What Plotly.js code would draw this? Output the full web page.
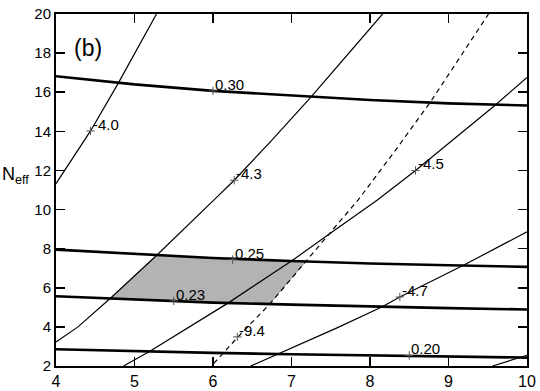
<!DOCTYPE html>
<html>
<head>
<meta charset="utf-8">
<script src="https://cdn.plot.ly/plotly-3.0.1.min.js"></script>
<style>
  html, body { margin: 0; padding: 0; background: #fff; }
  #chart { width: 540px; height: 391px; }
</style>
</head>
<body>
<div id="chart"></div>
<script>
// thick contours (labelled 0.30 / 0.25 / 0.23 / 0.20)
const thickX = [4, 5, 6, 7, 8, 9, 10];
const c030 = [16.82, 16.4, 16.07, 15.82, 15.6, 15.43, 15.32];
const c025 = [7.95, 7.72, 7.52, 7.37, 7.24, 7.15, 7.07];
const c023 = [5.57, 5.4, 5.24, 5.14, 5.04, 4.96, 4.89];
const c020 = [2.86, 2.76, 2.67, 2.6, 2.55, 2.49, 2.43];

// thin contours
const m40x = [4, 4.11, 4.44, 4.79, 5.28];
const m40y = [11.33, 12.0, 14.02, 16.44, 20];
const m43x = [4, 4.28, 4.69, 5.28, 6.01, 6.27, 6.73, 7.25, 8.16];
const m43y = [3.23, 4.0, 5.45, 7.65, 10.48, 11.5, 13.46, 15.76, 20];
const m45x = [4.86, 5.18, 6.18, 6.73, 7.0, 7.49, 8.09, 8.58, 9.59, 10];
const m45y = [2, 2.72, 5.19, 6.64, 7.37, 8.77, 10.48, 12.0, 15.32, 16.75];
const m47x = [6.48, 6.82, 7.2, 7.58, 8.15, 8.38, 9.19, 10];
const m47y = [2, 2.6, 3.27, 3.95, 5.02, 5.53, 7.15, 8.86];
const m49x = [9.56, 10];
const m49y = [2, 2.55];

// dashed contour (-9.4)
const dashX = [6.01, 6.31, 6.73, 7.18, 7.5, 7.85, 8.3, 8.77, 9.51];
const dashY = [2.13, 3.45, 5.2, 7.3, 8.85, 10.5, 12.9, 15.5, 20];

// shaded allowed region
const shadeX = [4.69, 5.28, 6.25, 7.18, 6.72, 6.2, 5.5, 4.69];
const shadeY = [5.45, 7.65, 7.44, 7.34, 5.18, 5.19, 5.33, 5.45];

// contour labels
const labelText = ['0.30', '-4.0', '-4.3', '-4.5', '0.25', '0.23', '-9.4', '-4.7', '0.20'];
const labelX = [6.0, 4.44, 6.27, 8.58, 6.25, 5.5, 6.31, 8.38, 8.5];
const labelY = [16.07, 14.02, 11.5, 12.0, 7.44, 5.33, 3.49, 5.53, 2.54];

const FONT = 'Liberation Sans, Arial, sans-serif';
const thin = { color: '#000', width: 1.2 };
const thick = { color: '#000', width: 2.6 };

function line(x, y, style) {
  return { type: 'scatter', mode: 'lines', x: x, y: y, line: style, hoverinfo: 'skip', showlegend: false };
}

const data = [
  { type: 'scatter', mode: 'lines', x: shadeX, y: shadeY, fill: 'toself',
    fillcolor: '#b3b3b3', line: { color: '#8c8c8c', width: 0.8 }, hoverinfo: 'skip', showlegend: false },
  line(dashX, dashY, { color: '#000', width: 1.2, dash: '5px,4px' }),
  line(m40x, m40y, thin),
  line(m43x, m43y, thin),
  line(m45x, m45y, thin),
  line(m47x, m47y, thin),
  line(m49x, m49y, thin),
  line(thickX, c030, thick),
  line(thickX, c025, thick),
  line(thickX, c023, thick),
  line(thickX, c020, thick),
  { type: 'scatter', mode: 'markers', x: labelX, y: labelY,
    marker: { symbol: 'cross-thin', size: 6, line: { color: '#555', width: 1 } },
    hoverinfo: 'skip', showlegend: false },
];

const annotations = labelText.map((t, i) => ({
  x: labelX[i], y: labelY[i], xref: 'x', yref: 'y', text: t, showarrow: false,
  xanchor: 'left', yanchor: 'bottom', xshift: 1, yshift: -3, borderpad: 0,
  font: { family: FONT, size: 15, color: '#000' },
}));

annotations.push({
  x: 4.2, y: 18.27, xref: 'x', yref: 'y', text: '(b)', showarrow: false,
  xanchor: 'left', yanchor: 'middle',
  font: { family: FONT, size: 23, color: '#000' },
});
annotations.push({
  x: -0.118, y: 0.54, xref: 'paper', yref: 'paper', text: 'N<sub>eff</sub>', showarrow: false,
  xanchor: 'left', yanchor: 'middle',
  font: { family: FONT, size: 18, color: '#000' },
});

const axisBase = {
  showgrid: false,
  zeroline: false,
  showline: true,
  linecolor: '#000',
  linewidth: 2,
  mirror: 'ticks',
  ticks: 'inside',
  ticklen: 9,
  tickwidth: 1.5,
  tickcolor: '#000',
};

const layout = {
  width: 540,
  height: 391,
  paper_bgcolor: '#fff',
  plot_bgcolor: '#fff',
  margin: { l: 56, r: 13, t: 14, b: 25 },
  showlegend: false,
  xaxis: Object.assign({}, axisBase, { range: [4, 10], dtick: 1, tick0: 4,
    tickfont: { family: FONT, size: 16, color: '#000' } }),
  yaxis: Object.assign({}, axisBase, { range: [2, 20], dtick: 2, tick0: 2,
    tickfont: { family: FONT, size: 15, color: '#000' } }),
  annotations: annotations,
};

Plotly.newPlot('chart', data, layout, { displayModeBar: false, staticPlot: true });
</script>
</body>
</html>
